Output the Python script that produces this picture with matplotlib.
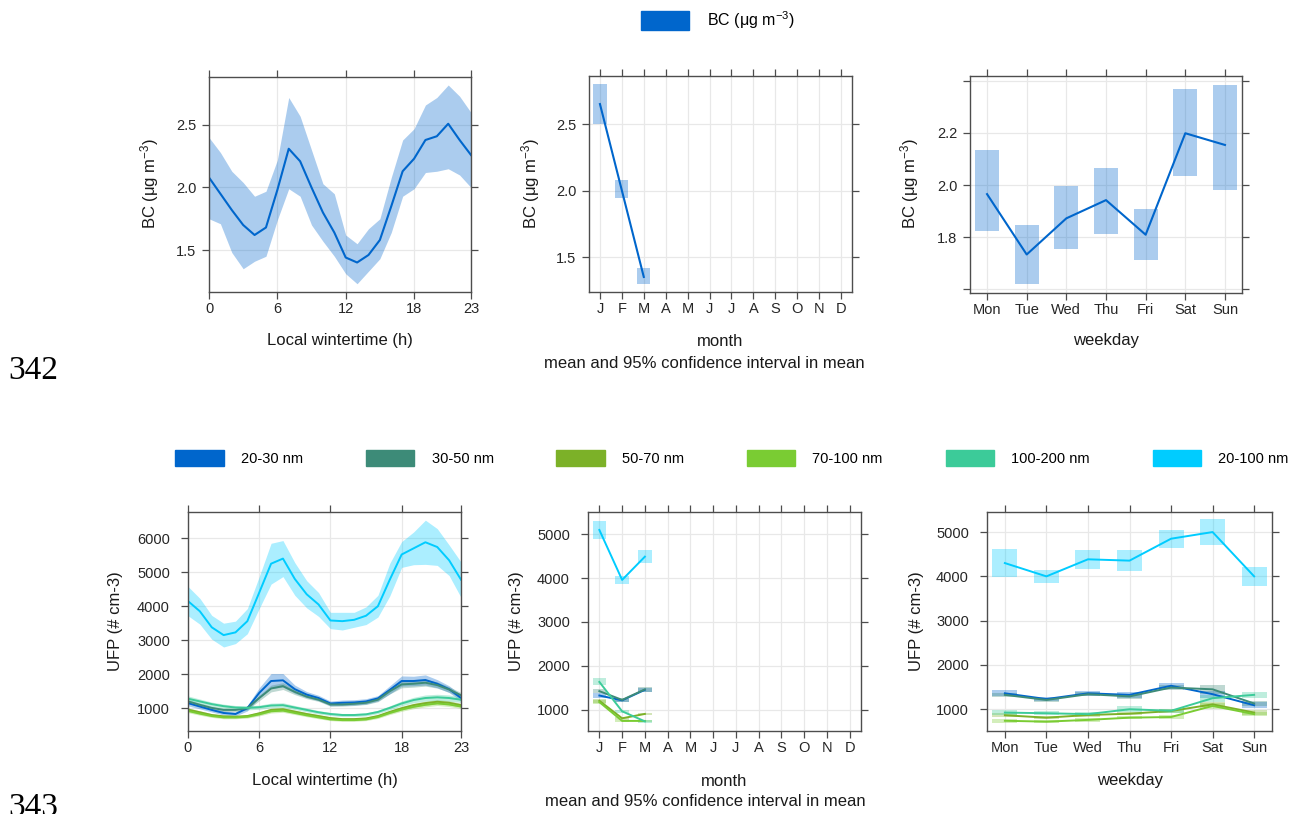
import numpy as np
import matplotlib
matplotlib.use('Agg')
import matplotlib.pyplot as plt
from matplotlib.patches import Patch

# Polices
plt.rcParams['font.family'] = ['Liberation Sans', 'DejaVu Sans']
plt.rcParams['mathtext.fontset'] = 'custom'
plt.rcParams['mathtext.rm'] = 'Liberation Sans'
plt.rcParams['mathtext.it'] = 'Liberation Sans:italic'

W, H = 1295, 814  # taille de la figure en pixels

# Axes communs
heures = np.arange(24)
mois = ['J', 'F', 'M', 'A', 'M', 'J', 'J', 'A', 'S', 'O', 'N', 'D']
jours = ['Mon', 'Tue', 'Wed', 'Thu', 'Fri', 'Sat', 'Sun']

# ---- BC (ug m-3) ----
bc_heure = [2.08, 1.95, 1.82, 1.70, 1.62, 1.68, 1.98, 2.31, 2.21, 2.00, 1.80, 1.64,
            1.44, 1.40, 1.46, 1.58, 1.85, 2.13, 2.23, 2.38, 2.41, 2.51, 2.38, 2.26]
bc_heure_bas = [1.75, 1.71, 1.48, 1.35, 1.41, 1.45, 1.74, 1.99, 1.93, 1.70, 1.57, 1.45,
                1.31, 1.23, 1.33, 1.43, 1.64, 1.93, 1.99, 2.12, 2.13, 2.15, 2.10, 2.00]
bc_heure_haut = [2.40, 2.28, 2.13, 2.04, 1.93, 1.97, 2.22, 2.72, 2.57, 2.30, 2.03, 1.95,
                 1.62, 1.55, 1.67, 1.75, 2.08, 2.38, 2.47, 2.66, 2.72, 2.82, 2.73, 2.60]

bc_mois = [2.65, 2.00, 1.35]
bc_mois_bas = [2.50, 1.94, 1.30]
bc_mois_haut = [2.80, 2.08, 1.415]

bc_jour = [1.965, 1.733, 1.872, 1.942, 1.809, 2.199, 2.154]
bc_jour_bas = [1.822, 1.620, 1.754, 1.810, 1.713, 2.035, 1.982]
bc_jour_haut = [2.136, 1.845, 1.996, 2.064, 1.906, 2.368, 2.384]

# ---- UFP (# cm-3) : moyenne et demi-largeur de l'intervalle de confiance ----
classes = ['20-30 nm', '30-50 nm', '50-70 nm', '70-100 nm', '100-200 nm', '20-100 nm']
couleurs = ['#0066CC', '#3D8B78', '#7CB128', '#7ACC33', '#3CCB99', '#00CCFF']

ufp_heure = [
    [1150, 1050, 950, 860, 830, 1000, 1450, 1800, 1820, 1560, 1400, 1300,
     1140, 1160, 1170, 1200, 1290, 1540, 1800, 1800, 1830, 1720, 1560, 1300],
    [1200, 1100, 1010, 950, 950, 1000, 1300, 1580, 1650, 1480, 1340, 1250,
     1110, 1110, 1130, 1160, 1250, 1500, 1700, 1720, 1750, 1680, 1550, 1380],
    [960, 880, 800, 760, 750, 770, 850, 950, 970, 900, 830, 770,
     710, 680, 680, 700, 770, 890, 1000, 1090, 1150, 1190, 1160, 1090],
    [920, 840, 770, 730, 730, 750, 820, 910, 930, 860, 790, 730,
     670, 650, 650, 670, 740, 860, 960, 1040, 1100, 1140, 1110, 1050],
    [1280, 1200, 1120, 1060, 1020, 1010, 1030, 1080, 1090, 1020, 950, 880,
     830, 800, 800, 820, 890, 1010, 1140, 1240, 1300, 1320, 1300, 1250],
    [4150, 3850, 3380, 3150, 3230, 3560, 4400, 5250, 5400, 4800, 4350, 4050,
     3580, 3560, 3600, 3720, 4000, 4780, 5520, 5700, 5880, 5740, 5350, 4780],
]
ufp_heure_ic = [
    [80, 70, 60, 60, 60, 80, 150, 220, 200, 120, 90, 80,
     70, 80, 80, 80, 80, 120, 150, 140, 150, 120, 100, 90],
    [60, 50, 50, 50, 50, 50, 80, 100, 100, 80, 60, 50,
     50, 50, 50, 50, 60, 80, 100, 100, 100, 90, 80, 80],
    [50, 45, 40, 40, 40, 40, 45, 50, 50, 45, 40, 40,
     35, 35, 35, 35, 40, 45, 50, 55, 60, 60, 60, 55],
    [50, 45, 40, 40, 40, 40, 45, 50, 50, 45, 40, 40,
     35, 35, 35, 35, 40, 45, 50, 55, 60, 60, 60, 55],
    [80, 70, 60, 60, 60, 60, 60, 70, 70, 60, 55, 50,
     45, 45, 45, 45, 50, 60, 70, 80, 90, 90, 90, 80],
    [430, 380, 350, 350, 330, 370, 470, 600, 530, 480, 400, 350,
     240, 260, 220, 260, 320, 480, 380, 480, 650, 540, 450, 520],
]

ufp_mois = [
    [1320, 1210, 1450],
    [1420, 1220, 1460],
    [1200, 800, 900],
    [1170, 740, 740],
    [1630, 960, 730],
    [5100, 3960, 4490],
]
ufp_mois_ic = [
    [60, 40, 50],
    [50, 40, 50],
    [50, 30, 30],
    [40, 30, 30],
    [80, 40, 30],
    [200, 100, 145],
]

ufp_jour = [
    [1360, 1230, 1360, 1325, 1530, 1340, 1090],
    [1325, 1210, 1340, 1290, 1490, 1450, 1130],
    [865, 810, 870, 900, 960, 1110, 925],
    [740, 720, 760, 810, 825, 1075, 890],
    [925, 910, 890, 1000, 965, 1250, 1325],
    [4300, 4000, 4385, 4355, 4850, 5000, 4000],
]
ufp_jour_ic = [
    [70, 50, 60, 60, 70, 80, 70],
    [50, 40, 50, 50, 60, 100, 60],
    [40, 40, 40, 40, 40, 60, 50],
    [40, 40, 40, 40, 40, 60, 40],
    [60, 40, 40, 70, 50, 80, 60],
    [310, 145, 220, 245, 200, 290, 210],
]

bleu_bc = '#0066CC'
alpha_ic = 0.33
largeur_boite = 0.6
gris_cadre = '#4D4D4D'
taille_tick = 10.5
taille_titre = 12

fig = plt.figure(figsize=(W / 100, H / 100), dpi=100)


def panneau(g, h, d, b, pad_y):
    """Crée un panneau à partir de sa position en pixels (gauche, haut, droite, bas)."""
    ax = fig.add_axes([g / W, 1 - b / H, (d - g) / W, (b - h) / H])
    ax.grid(True, color='#E8E8E8', lw=0.9)
    ax.set_axisbelow(True)
    for s in ax.spines.values():
        s.set_color(gris_cadre)
        s.set_linewidth(1.0)
    ax.tick_params(direction='out', length=5, width=0.9, color=gris_cadre,
                   top=True, right=True, labelsize=taille_tick, labelcolor='#262626')
    ax.tick_params(axis='x', pad=2.5)
    ax.tick_params(axis='y', pad=pad_y)
    return ax


def texte(x, y, s, **kw):
    fig.text(x / W, 1 - y / H, s, ha='center', va='center', color='#1A1A1A',
             fontsize=taille_titre, **kw)


# ================= Ligne du haut : BC =================
lab_bc = 'BC (μg m$^{-3}$)'

# heure
ax = panneau(209, 77, 471, 292, 4)
ax.fill_between(heures, bc_heure_bas, bc_heure_haut, color=bleu_bc, alpha=alpha_ic, lw=0)
ax.plot(heures, bc_heure, color=bleu_bc, lw=1.5)
ax.set_xlim(0, 23)
ax.set_ylim(1.164, 2.884)
ax.set_xticks([0, 6, 12, 18, 23])
ax.set_yticks([1.5, 2.0, 2.5])
ax.set_yticklabels(['1.5', '2.0', '2.5'])
texte(150, 184, lab_bc, rotation=90)
texte(340, 341, 'Local wintertime (h)')

# mois
ax = panneau(589, 76, 852, 292, 4)
x = np.arange(1, len(bc_mois) + 1)
ax.bar(x, np.array(bc_mois_haut) - np.array(bc_mois_bas), bottom=bc_mois_bas,
       width=largeur_boite, color=bleu_bc, alpha=alpha_ic, lw=0)
ax.plot(x, bc_mois, color=bleu_bc, lw=1.5)
ax.set_xlim(0.5, 12.5)
ax.set_ylim(1.237, 2.861)
ax.set_xticks(np.arange(1, 13))
ax.set_xticklabels(mois)
ax.set_yticks([1.5, 2.0, 2.5])
ax.set_yticklabels(['1.5', '2.0', '2.5'])
texte(531, 184, lab_bc, rotation=90)
texte(720, 342, 'month')
texte(704, 363, 'mean and 95% confidence interval in mean')

# jour de la semaine
ax = panneau(970, 76, 1242, 293, 4)
x = np.arange(1, len(jours) + 1)
ax.bar(x, np.array(bc_jour_haut) - np.array(bc_jour_bas), bottom=bc_jour_bas,
       width=largeur_boite, color=bleu_bc, alpha=alpha_ic, lw=0)
ax.plot(x, bc_jour, color=bleu_bc, lw=1.5)
ax.set_xlim(0.57, 7.43)
ax.set_ylim(1.585, 2.419)
ax.set_xticks(x)
ax.set_xticklabels(jours)
ax.set_yticks([1.6, 1.8, 2.0, 2.2, 2.4])
ax.set_yticklabels(['', '1.8', '2.0', '2.2', ''])
texte(910, 184, lab_bc, rotation=90)
texte(1106, 341, 'weekday')

fig.legend(handles=[Patch(color=bleu_bc, label=lab_bc)], loc='center',
           bbox_to_anchor=(718 / W, 1 - 20 / H), frameon=False, fontsize=11.5,
           handlelength=3.0, handleheight=1.5, handletextpad=1.1)

# ================= Ligne du bas : UFP =================
lab_ufp = 'UFP (# cm-3)'

# heure
ax = panneau(188, 512, 461, 731, 8)
for moy, ic, c in zip(ufp_heure, ufp_heure_ic, couleurs):
    moy, ic = np.array(moy), np.array(ic)
    ax.fill_between(heures, moy - ic, moy + ic, color=c, alpha=alpha_ic, lw=0)
    ax.plot(heures, moy, color=c, lw=1.4)
ax.set_xlim(0, 23)
ax.set_ylim(330, 6770)
ax.set_xticks([0, 6, 12, 18, 23])
ax.set_yticks([1000, 2000, 3000, 4000, 5000, 6000])
texte(116, 621, lab_ufp, rotation=90)
texte(325, 781, 'Local wintertime (h)')

# mois
ax = panneau(588, 512, 861, 731, 8)
for moy, ic, c in zip(ufp_mois, ufp_mois_ic, couleurs):
    moy, ic = np.array(moy), np.array(ic)
    x = np.arange(1, len(moy) + 1)
    ax.bar(x, 2 * ic, bottom=moy - ic, width=largeur_boite, color=c, alpha=alpha_ic, lw=0)
    ax.plot(x, moy, color=c, lw=1.4)
ax.set_xlim(0.5, 12.5)
ax.set_ylim(510, 5510)
ax.set_xticks(np.arange(1, 13))
ax.set_xticklabels(mois)
ax.set_yticks([1000, 2000, 3000, 4000, 5000])
texte(516, 621, lab_ufp, rotation=90)
texte(724, 781, 'month')
texte(705, 802, 'mean and 95% confidence interval in mean')

# jour de la semaine
ax = panneau(987, 512, 1272, 731, 8)
for moy, ic, c in zip(ufp_jour, ufp_jour_ic, couleurs):
    moy, ic = np.array(moy), np.array(ic)
    x = np.arange(1, len(moy) + 1)
    ax.bar(x, 2 * ic, bottom=moy - ic, width=largeur_boite, color=c, alpha=alpha_ic, lw=0)
    ax.plot(x, moy, color=c, lw=1.4)
ax.set_xlim(0.57, 7.43)
ax.set_ylim(509, 5453)
ax.set_xticks(np.arange(1, 8))
ax.set_xticklabels(jours)
ax.set_yticks([1000, 2000, 3000, 4000, 5000])
texte(916, 621, lab_ufp, rotation=90)
texte(1130, 781, 'weekday')

fig.legend(handles=[Patch(color=c, label=l) for c, l in zip(couleurs, classes)],
           loc='center', bbox_to_anchor=(732 / W, 1 - 458 / H), ncol=6, frameon=False,
           fontsize=10.5, handlelength=3.3, handleheight=1.3, handletextpad=1.2,
           columnspacing=4.3)

# Numéros de ligne du document source
fig.text(8 / W, 1 - 379 / H, '342', fontsize=24, family='Liberation Serif', va='baseline')
fig.text(8 / W, 1 - 816 / H, '343', fontsize=24, family='Liberation Serif', va='baseline')

fig.savefig('out.png', dpi=100)
